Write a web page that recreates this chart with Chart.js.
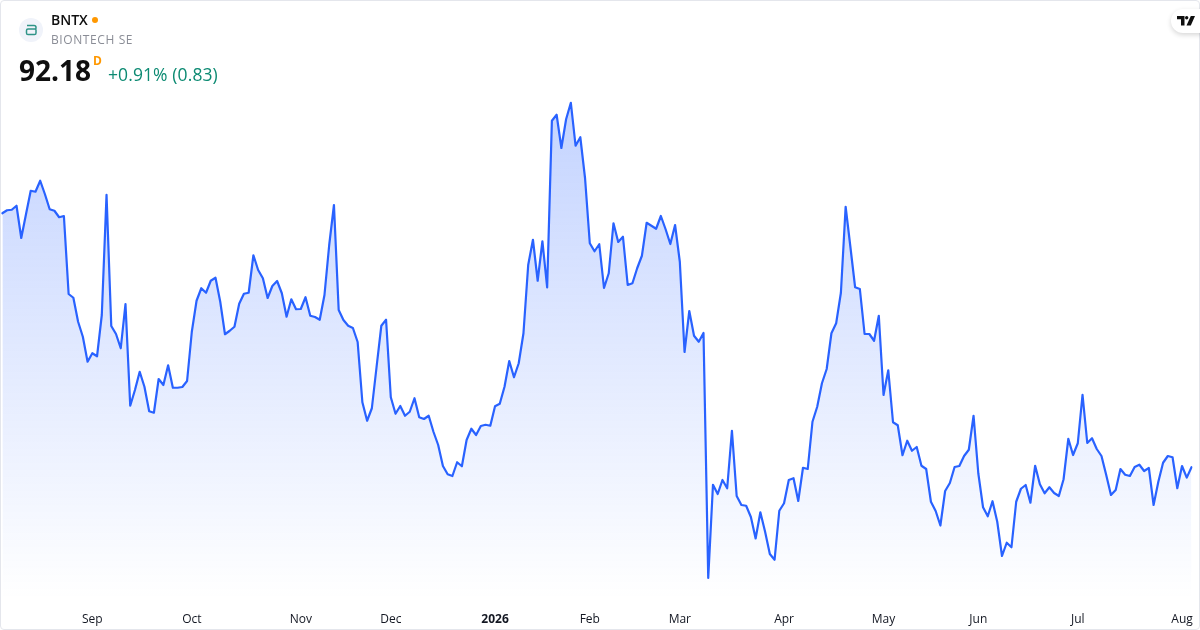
<!DOCTYPE html>
<html><head><meta charset="utf-8">
<style>
html,body{margin:0;padding:0;background:#fff;width:1200px;height:630px;overflow:hidden;font-family:"Open Sans",sans-serif}
#frame{position:absolute;left:0;top:0;width:1198px;height:628px;border:1px solid #e4e6ec;border-radius:4px}
#wrap{position:absolute;left:0;top:0;width:1200px;height:630px}
.t{position:absolute;white-space:nowrap;line-height:1}
#tv{position:absolute;left:1171px;top:9px;width:40px;height:24px;border-radius:12px;background:#fff;box-shadow:0 2px 5px rgba(0,0,0,.16)}
</style></head><body>
<div id="wrap"><canvas id="c" width="1200" height="630"></canvas></div>
<div id="frame"></div>
<svg style="position:absolute;left:19px;top:18px" width="24" height="24" viewBox="0 0 24 24">
<circle cx="12" cy="12" r="12" fill="#f0f3fa"/>
<path d="M8 7.5H15Q17 7.5 17 9.5V10.8M17 12Q17 11 16 11H9Q7.5 11 7.5 12.5V15Q7.5 16.6 9 16.6H15.5Q17 16.6 17 15V12" fill="none" stroke="#2f9488" stroke-width="1.5"/>
</svg>
<div class="t" style="left:51px;top:13px;font-size:14px;font-weight:600;color:#0f0f0f">BNTX</div>
<svg style="position:absolute;left:92px;top:17px" width="6" height="6"><circle cx="3" cy="3" r="3" fill="#ff9800"/></svg>
<div class="t" style="left:51px;top:34px;font-size:12px;color:#8a8d96;letter-spacing:.6px">BIONTECH SE</div>
<div class="t" style="left:19px;top:56px;font-size:28px;font-weight:700;color:#0f0f0f">92.18</div>
<div class="t" style="left:93px;top:55px;font-size:12px;font-weight:700;color:#ff9800">D</div>
<div class="t" style="left:108px;top:66px;font-size:17.5px;letter-spacing:.1px;color:#0c8a72">+0.91% (0.83)</div>
<div id="tv"><svg style="position:absolute;left:5.5px;top:6.5px" width="18" height="10" viewBox="0 0 18 10"><path d="M0 0H7.5V9.5H4V3.3H0ZM9.7 3.4A1.7 1.7 0 1 0 9.7 0A1.7 1.7 0 0 0 9.7 3.4ZM13.8 0H18L13.8 9.5H9.5Z" fill="#0f0f0f"/></svg></div>
<script src="https://cdn.jsdelivr.net/npm/chart.js@4"></script>
<script>
const prices = [112.50,112.74,112.78,113.10,110.52,112.42,114.30,114.22,115.10,114.02,112.82,112.70,112.18,112.28,106.04,105.74,103.82,102.62,100.62,101.30,101.06,104.36,113.98,103.48,102.84,101.70,105.24,97.10,98.36,99.82,98.62,96.66,96.54,99.24,98.76,100.34,98.54,98.54,98.60,99.08,103.02,105.50,106.50,106.14,107.10,107.34,105.42,102.82,103.10,103.42,105.26,106.06,106.14,109.14,107.96,107.30,105.72,106.68,107.08,106.10,104.22,105.62,104.82,104.84,105.78,104.30,104.20,103.98,105.96,109.96,113.16,104.76,103.96,103.50,103.32,102.20,97.38,95.90,96.90,100.22,103.50,103.98,97.78,96.46,97.08,96.30,96.62,97.70,96.18,96.04,96.30,95.02,93.96,92.28,91.62,91.48,92.58,92.26,94.36,95.26,94.76,95.48,95.58,95.50,97.06,97.26,98.62,100.68,99.38,100.50,102.90,108.36,110.38,107.10,110.26,106.56,119.90,120.38,117.72,120.02,121.34,117.90,118.58,115.30,110.10,109.46,110.02,106.52,107.70,111.70,110.20,110.62,106.76,106.90,108.10,109.10,111.74,111.50,111.26,112.28,111.22,110.04,111.56,108.62,101.40,104.68,102.70,102.22,102.92,83.32,90.78,90.04,91.16,90.50,95.10,89.88,89.16,89.10,88.20,86.48,88.58,87.02,85.24,84.78,88.70,89.30,91.16,91.30,89.48,92.14,92.04,95.82,97.02,98.90,100.04,102.90,103.70,106.14,113.02,109.82,106.58,106.44,102.84,102.84,102.30,104.30,97.96,99.94,95.78,95.54,93.14,94.30,93.50,93.80,92.30,92.04,89.42,88.68,87.52,90.28,90.92,92.20,92.28,93.08,93.58,96.30,91.70,88.98,88.26,89.46,87.82,85.08,86.14,85.78,89.42,90.46,90.76,89.34,92.30,90.82,90.10,90.58,90.12,89.88,91.22,94.46,93.16,94.10,97.98,94.12,94.50,93.64,93.08,91.56,89.96,90.36,92.04,91.58,91.48,92.20,92.38,91.88,92.12,89.16,91.02,92.54,93.08,92.98,90.50,92.28,91.35,92.18];
const tickLabels = ["Sep","Oct","Nov","Dec","2026","Feb","Mar","Apr","May","Jun","Jul","Aug"];
const tickIndex = [19,40,63,82,104,124,143,165,186,206,227,249];
const labels = prices.map((p,i)=>{const k=tickIndex.indexOf(i);return k>=0?tickLabels[k]:"";});

const ctx = document.getElementById("c").getContext("2d");
const grad = ctx.createLinearGradient(0,102,0,600);
grad.addColorStop(0,"rgba(41,98,255,0.28)");
grad.addColorStop(1,"rgba(41,98,255,0.0)");

new Chart(ctx,{
  type:"line",
  data:{labels,datasets:[{data:prices,borderColor:"#2962ff",borderWidth:2.2,pointRadius:0,tension:0,fill:"start",backgroundColor:grad,borderJoinStyle:"round",borderCapStyle:"round"}]},
  options:{
    responsive:false,animation:false,
    layout:{padding:{left:2.3,right:8.5,top:0,bottom:0}},
    plugins:{legend:{display:false},tooltip:{enabled:false}},
    scales:{
      x:{
        offset:false,
        grid:{display:false},
        border:{display:false},
        afterFit(s){s.height=30;s.paddingLeft=0;s.paddingRight=0;},
        afterBuildTicks(s){s.ticks=tickIndex.map(v=>({value:v}));},
        ticks:{
          autoSkip:false,maxRotation:0,minRotation:0,padding:4,
          color:"#131722",
          font:ctx=>({family:'"Open Sans"',size:12,weight:ctx.tick&&ctx.tick.label==="2026"?"700":"400"}),
          callback(v){return labels[v];}
        }
      },
      y:{display:false,min:81.56,max:129.56}
    }
  }
});
</script>
</body></html>
